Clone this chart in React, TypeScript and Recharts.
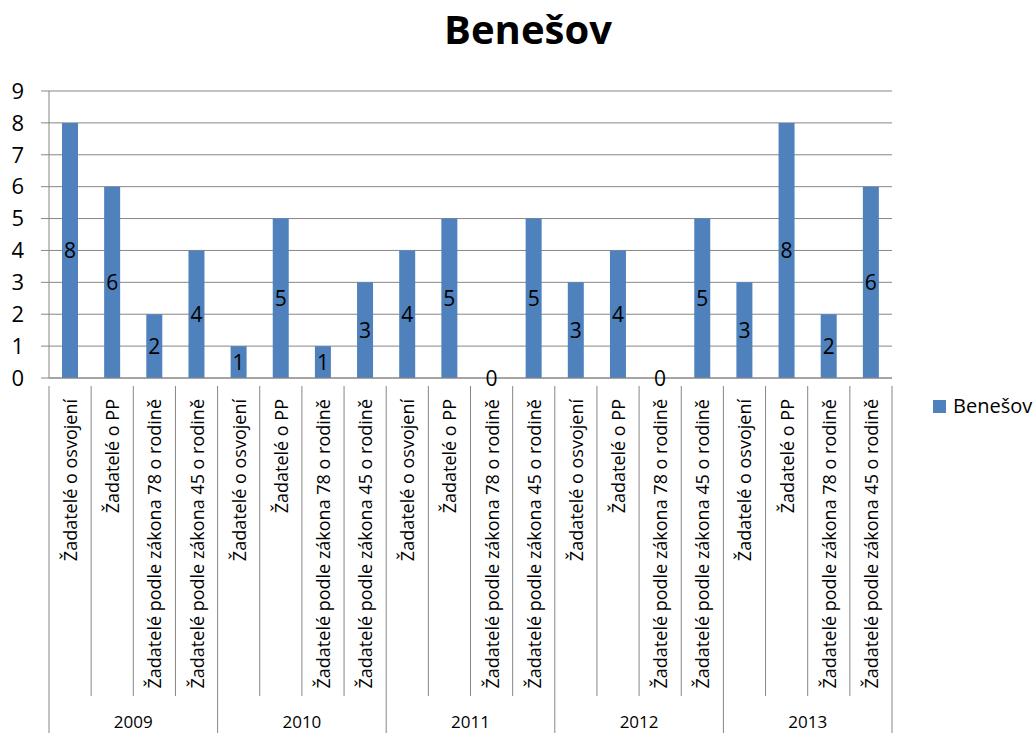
import React from 'react';
import { BarChart, Bar, XAxis, YAxis, CartesianGrid, LabelList } from 'recharts';

const years = ['2009', '2010', '2011', '2012', '2013'];
const categories = [
  'Žadatelé o osvojení',
  'Žadatelé o PP',
  'Žadatelé podle zákona 78 o rodině',
  'Žadatelé podle zákona 45 o rodině',
];
const values2009 = [8, 6, 2, 4];
const values2010 = [1, 5, 1, 3];
const values2011 = [4, 5, 0, 5];
const values2012 = [3, 4, 0, 5];
const values2013 = [3, 8, 2, 6];
const yTicks = [0, 1, 2, 3, 4, 5, 6, 7, 8, 9];
const seriesName = 'Benešov';

const seriesByYear = [values2009, values2010, values2011, values2012, values2013];
const data = years.flatMap((yr, yi) =>
  categories.map((c, ci) => ({ key: `${yr}-${ci}`, cat: c, year: yr, value: seriesByYear[yi][ci] }))
);

const W = 1036;
const H = 733;
const TOP = 91;
const RIGHT = 144;
const XAXIS_H = 355;
const YAXIS_W = 49;
const plotW = W - YAXIS_W - RIGHT;
const BW = plotW / data.length;
const FONT = 'Open Sans, sans-serif';
const GRAY = '#868686';
const BLUE = '#4F81BD';

const CatTick = (props: any) => {
  const { x, y, index } = props;
  const item = data[index];
  const left = x - BW / 2;
  const groupStart = index % 4 === 0;
  return (
    <g>
      <line x1={left} x2={left} y1={y} y2={groupStart ? H : 696} stroke={GRAY} strokeWidth={1} />
      {index === data.length - 1 && (
        <line x1={x + BW / 2} x2={x + BW / 2} y1={y} y2={H} stroke={GRAY} strokeWidth={1} />
      )}
      <text
        x={x}
        y={y + 13}
        transform={`rotate(-90, ${x}, ${y + 13})`}
        textAnchor="end"
        dominantBaseline="central"
        fontFamily={FONT}
        fontSize={18}
        fill="#000"
      >
        {item ? item.cat : ''}
      </text>
      {groupStart && (
        <text x={left + BW * 2} y={y + 342} textAnchor="middle" fontFamily={FONT} fontSize={17} fill="#000">
          {item ? item.year : ''}
        </text>
      )}
    </g>
  );
};

const ValueLabel = (props: any) => {
  const { x, y, width, height, value } = props;
  return (
    <text
      x={x + width / 2}
      y={y + height / 2}
      textAnchor="middle"
      dominantBaseline="central"
      fontFamily={FONT}
      fontSize={21}
      fill="#000"
    >
      {value}
    </text>
  );
};

export default function App() {
  return (
    <div style={{ position: 'absolute', left: 0, top: 0, width: W, height: H, background: '#fff' }}>
      <div
        style={{
          position: 'absolute',
          left: 328,
          width: 400,
          top: 9,
          textAlign: 'center',
          fontFamily: FONT,
          fontWeight: 'bold',
          fontSize: 40,
          lineHeight: '40px',
          color: '#000',
        }}
      >
        {seriesName}
      </div>
      <div
        style={{
          position: 'absolute',
          left: 933,
          top: 392,
          display: 'flex',
          alignItems: 'center',
          fontFamily: FONT,
          fontSize: 20,
          lineHeight: '28px',
          color: '#000',
          whiteSpace: 'nowrap',
        }}
      >
        <span style={{ display: 'inline-block', width: 13, height: 13, background: BLUE, marginRight: 7 }} />
        {seriesName}
      </div>
      <BarChart width={W} height={H} data={data} margin={{ top: TOP, right: RIGHT, bottom: 0, left: 0 }}>
        <CartesianGrid vertical={false} stroke={GRAY} strokeWidth={1} />
        <XAxis
          dataKey="key"
          tick={<CatTick />}
          tickLine={false}
          axisLine={{ stroke: GRAY }}
          interval={0}
          height={XAXIS_H}
        />
        <YAxis
          domain={[0, 9]}
          ticks={yTicks}
          interval={0}
          tickSize={8}
          tickMargin={17}
          tickLine={{ stroke: GRAY }}
          axisLine={{ stroke: GRAY }}
          tick={{ fontFamily: FONT, fontSize: 22, fill: '#000' }}
          width={YAXIS_W}
        />
        <Bar dataKey="value" name={seriesName} fill={BLUE} barSize={16} minPointSize={0.01} isAnimationActive={false}>
          <LabelList dataKey="value" content={<ValueLabel />} />
        </Bar>
      </BarChart>
    </div>
  );
}
